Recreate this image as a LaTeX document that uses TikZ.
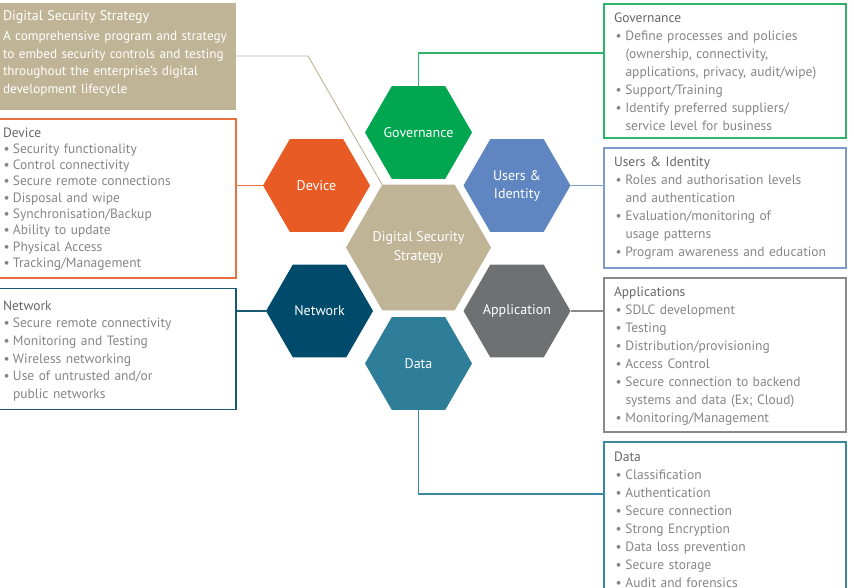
\documentclass[tikz,border=0pt]{standalone}
\usepackage{fontspec}
\setmainfont{PT Sans}
\usetikzlibrary{shapes.geometric}
\definecolor{cgov}{HTML}{00A650}
\definecolor{cusr}{HTML}{5F86C1}
\definecolor{cdev}{HTML}{E95B25}
\definecolor{cdss}{HTML}{BFB596}
\definecolor{cnet}{HTML}{004B6B}
\definecolor{capp}{HTML}{6F7072}
\definecolor{cdat}{HTML}{2E7D99}
\definecolor{bgov}{HTML}{2DB36A}
\definecolor{busr}{HTML}{7C9ACB}
\definecolor{bdev}{HTML}{E8703E}
\definecolor{bnet}{HTML}{1A5874}
\definecolor{bapp}{HTML}{8A8A8A}
\definecolor{bdat}{HTML}{3C87A0}
\definecolor{titlegray}{HTML}{666666}
\definecolor{itemgray}{HTML}{858585}
\newcommand{\itm}[1]{\par\hangindent=11.5pt\hangafter=1\noindent\makebox[11.5pt][l]{\hspace{1.5pt}\textbullet}#1}
\newcommand{\litm}[1]{\par\hangindent=10pt\hangafter=1\noindent\makebox[10pt][l]{\hspace{0.5pt}\textbullet}#1}
\begin{document}
\begin{tikzpicture}[x=1pt,y=-1pt,
  hexlbl/.style={inner sep=0pt, text=white, align=center, font=\fontsize{14}{18}\selectfont},
  hexa/.style={regular polygon, regular polygon sides=6, minimum size=107pt, inner sep=0pt, outer sep=0pt, label={[hexlbl]center:#1}},
  infobox/.style={rectangle, draw, line width=1.4pt, inner sep=0pt, outer sep=0pt, anchor=north west},
  conn/.style={line width=1.1pt},
  boxtxt/.style={anchor=north west, inner sep=0pt, outer sep=0pt, align=left, text=itemgray},
]
\useasboundingbox (0,0) rectangle (854,588);

% hexagons
\node[hexa={{Digital Security\\Strategy}}, fill=cdss, minimum size=145pt] (center) at (418.5,247.5) {};
\node[hexa={Governance}, fill=cgov] (gov) at (418.5,132.5) {};
\node[hexa={{Users \&\\Identity}}, fill=cusr] (usr) at (517,185.5) {};
\node[hexa={Device}, fill=cdev] (dev) at (316.5,185.5) {};
\node[hexa={Network}, fill=cnet] (net) at (319.5,311) {};
\node[hexa={Application}, fill=capp] (app) at (517,311) {};
\node[hexa={Data}, fill=cdat] (dat) at (418.5,363.5) {};

% boxes
\node[infobox, draw=none, fill=cdss, minimum width=241pt, minimum height=107pt] (dssbox) at (-5,3) {};
\node[infobox, draw=bdev, minimum width=241pt, minimum height=159pt] (devbox) at (-5,119) {};
\node[infobox, draw=bnet, minimum width=241pt, minimum height=121pt] (netbox) at (-5,288.5) {};
\node[infobox, draw=bgov, minimum width=242pt, minimum height=134pt] (govbox) at (604,4) {};
\node[infobox, draw=busr, minimum width=242pt, minimum height=120pt] (usrbox) at (604,148) {};
\node[infobox, draw=bapp, minimum width=242pt, minimum height=154pt] (appbox) at (604,278) {};
\node[infobox, draw=bdat, minimum width=242pt, minimum height=170pt] (datbox) at (604,442) {};

% box texts
\node[boxtxt, text=white, text width=232pt, font=\fontsize{13.2}{17.8}\selectfont] at (3,11)
 {{\fontsize{14}{18}\selectfont Digital Security Strategy}\par\vspace{1.5pt}
  A comprehensive program and strategy\newline to embed security controls and testing\newline throughout the enterprise’s digital\newline development lifecycle\par};
\node[boxtxt, text width=232pt, font=\fontsize{13.5}{16.3}\selectfont] at (3,127.5)
 {\textcolor{titlegray}{Device}
  \litm{Security functionality}
  \litm{Control connectivity}
  \litm{Secure remote connections}
  \litm{Disposal and wipe}
  \litm{Synchronisation/Backup}
  \litm{Ability to update}
  \litm{Physical Access}
  \litm{Tracking/Management}\par};
\node[boxtxt, text width=232pt, font=\fontsize{13.5}{17.7}\selectfont] at (3,300.5)
 {\textcolor{titlegray}{Network}
  \litm{Secure remote connectivity}
  \litm{Monitoring and Testing}
  \litm{Wireless networking}
  \litm{Use of untrusted and/or\newline public networks}\par};
\node[boxtxt, text width=230pt, font=\fontsize{13.5}{18}\selectfont] at (614,12.5)
 {\textcolor{titlegray}{Governance}
  \itm{Define processes and policies\newline (ownership, connectivity,\newline applications, privacy, audit/wipe)}
  \itm{Support/Training}
  \itm{Identify preferred suppliers/\newline service level for business}\par};
\node[boxtxt, text width=230pt, font=\fontsize{13.5}{18}\selectfont] at (614,156.5)
 {\textcolor{titlegray}{Users \& Identity}
  \itm{Roles and authorisation levels\newline and authentication}
  \itm{Evaluation/monitoring of\newline usage patterns}
  \itm{Program awareness and education}\par};
\node[boxtxt, text width=230pt, font=\fontsize{13.5}{18}\selectfont] at (614,287)
 {\textcolor{titlegray}{Applications}
  \itm{SDLC development}
  \itm{Testing}
  \itm{Distribution/provisioning}
  \itm{Access Control}
  \itm{Secure connection to backend\newline systems and data (Ex; Cloud)}
  \itm{Monitoring/Management}\par};
\node[boxtxt, text width=230pt, font=\fontsize{13.5}{18}\selectfont] at (614,451.5)
 {\textcolor{titlegray}{Data}
  \itm{Classification}
  \itm{Authentication}
  \itm{Secure connection}
  \itm{Strong Encryption}
  \itm{Data loss prevention}
  \itm{Secure storage}
  \itm{Audit and forensics}\par};

% connectors
\coordinate (dssj) at (308,56);
\coordinate (govj) at (418.5,53);
\coordinate (datj) at (418.5,494);
\draw[conn, line width=0.9pt, cdss] (dssj -| dssbox.east) -- (dssj) -- (center.120);
\draw[conn, bgov] (gov.north) |- (govj -| govbox.west);
\draw[conn, busr] (usr.east) -- (usr.east -| usrbox.west);
\draw[conn, bapp] (app.east) -- (app.east -| appbox.west);
\draw[conn, bdat] (dat.south) |- (datj -| datbox.west);
\draw[conn, bdev] (dev.west) -- (dev.west -| devbox.east);
\draw[conn, bnet] (net.west) -- (net.west -| netbox.east);
\end{tikzpicture}
\end{document}
